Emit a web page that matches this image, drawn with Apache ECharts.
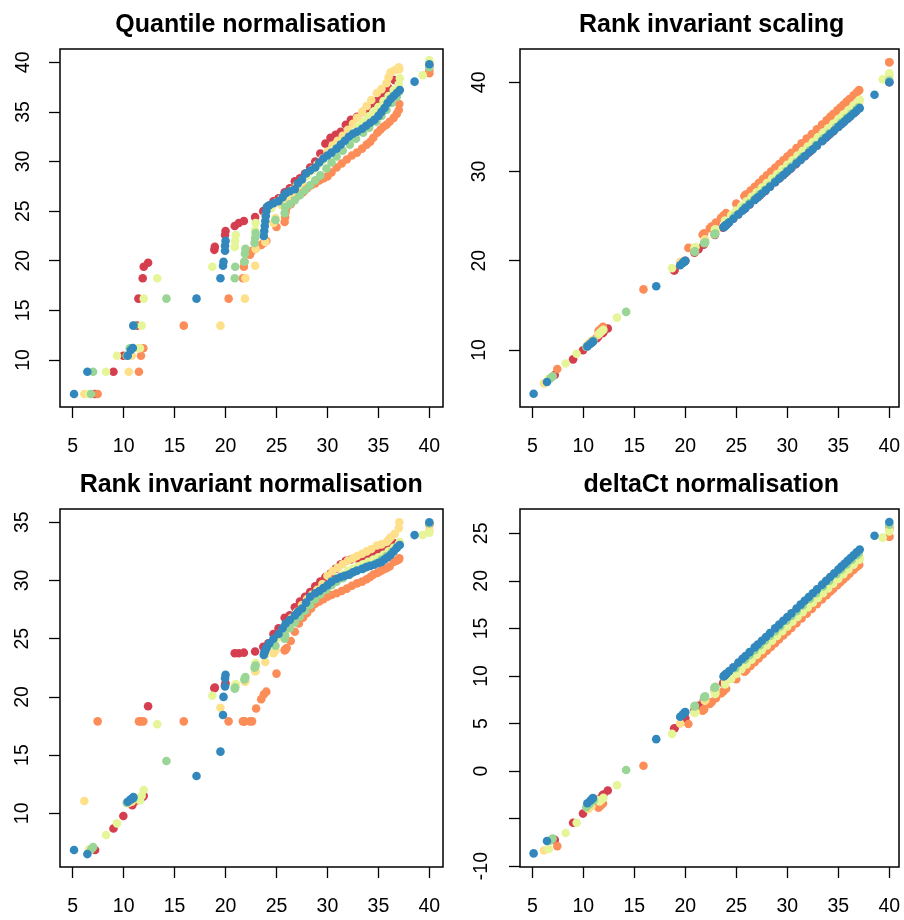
<!DOCTYPE html>
<html><head><meta charset="utf-8">
<script src="https://cdn.jsdelivr.net/npm/echarts@6/dist/echarts.min.js"></script>
<style>html,body{margin:0;padding:0;background:#fff}#c{width:904px;height:920px}</style>
</head><body><div id="c"></div>
<script>
// ---------- data: raw Ct (x) per sample, and normalised values per method ----------
const panelTitles = ['Quantile normalisation','Rank invariant scaling','Rank invariant normalisation','deltaCt normalisation'];
const xTicks = [5,10,15,20,25,30,35,40];
const yTicksQuantile = [10,15,20,25,30,35,40];
const yTicksScaling = [10,20,30,40];
const yTicksRankNorm = [10,15,20,25,30,35];
const yTicksDeltaCt = [-10,-5,0,5,10,15,20,25];
const yLabelsDeltaCt = [-10,0,5,10,15,20,25];

// sample 1 (red)
const x_s1 = [7.2,9.0,9.97,10.85,11.3,11.45,11.87,11.97,12.4,18.9,18.95,19.95,20.0,20.9,21.3,21.8,22.9,23.7,24.2,24.7,25.2,25.8,26.3,26.8,27.3,27.8,28.3,28.8,29.3,29.8,30.3,30.8,31.3,31.8,32.3,32.9,33.5,34.0,34.5,35.0,35.5,36.0,36.6,40.0];
const q_s1 = [6.57,8.82,10.43,11.18,13.46,16.18,18.23,19.4,19.8,21.1,21.4,22.6,23.0,23.5,23.8,24.0,24.4,25.0,25.5,26.0,26.3,26.9,27.3,28.0,28.3,28.8,29.4,30.0,30.8,31.8,32.4,32.7,33.0,33.7,34.2,34.5,35.0,35.4,35.9,36.3,36.8,37.4,38.2,39.7];
const rs_s1 = [7.2,8.95,9.97,10.85,11.3,11.45,11.87,11.97,12.4,18.9,18.95,19.95,20.0,20.9,21.3,21.8,22.9,23.7,24.2,24.7,25.2,25.8,26.3,26.8,27.3,27.8,28.3,28.8,29.3,29.8,30.3,30.8,31.3,31.8,32.3,32.9,33.5,34.0,34.5,35.0,35.5,36.0,36.6,40.0];
const rn_s1 = [6.85,8.7,9.77,10.7,11.1,11.2,11.4,11.5,19.2,20.75,20.8,21.0,21.2,23.75,23.75,23.8,23.9,24.3,24.6,25.4,25.9,26.8,27.0,27.7,28.2,28.6,29.0,29.5,29.9,30.3,30.6,31.0,31.4,31.7,31.8,31.9,32.0,32.1,32.3,32.5,32.7,32.8,33.2,34.9];
const dc_s1 = [-7.25,-5.45,-4.48,-3.6,-3.15,-3.0,-2.58,-2.48,-2.05,4.45,4.5,5.5,5.55,6.45,6.85,7.35,8.45,9.25,9.75,10.25,10.75,11.35,11.85,12.35,12.85,13.35,13.85,14.35,14.85,15.35,15.85,16.35,16.85,17.35,17.85,18.45,19.05,19.55,20.05,20.55,21.05,21.55,22.15,25.55];

// sample 2 (orange)
const x_s2 = [7.45,11.5,11.7,11.93,15.9,20.3,21.7,21.8,21.85,22.4,22.6,23.0,23.5,23.75,24.0,25.0,25.8,25.85,25.9,26.0,26.4,26.8,27.2,27.6,28.0,28.4,28.8,29.2,29.6,30.0,30.4,30.9,31.4,31.9,32.4,32.9,33.4,33.85,34.2,34.5,34.9,35.2,35.5,35.8,36.1,36.5,36.8,37.0,37.05,40.0,40.0];
const q_s2 = [6.57,8.82,10.43,11.18,13.46,16.18,18.23,19.4,19.9,20.6,21.0,21.3,21.6,21.8,22.0,23.4,23.9,24.4,24.9,25.4,25.7,26.4,26.6,26.9,27.3,27.6,27.8,28.1,28.3,28.5,28.9,29.4,29.8,30.2,30.6,30.9,31.3,31.7,32.0,32.4,32.9,33.2,33.5,33.7,34.0,34.4,34.8,35.2,35.8,38.9,39.2];
const rs_s2 = [7.87,12.14,12.36,12.6,16.79,21.44,22.92,23.02,23.07,23.65,23.87,24.29,24.82,25.08,25.34,26.4,27.24,27.3,27.35,27.46,27.88,28.3,28.72,29.15,29.57,29.99,30.41,30.84,31.26,31.68,32.1,32.63,33.16,33.69,34.21,34.74,35.27,35.75,36.12,36.43,36.85,37.17,37.49,37.8,38.12,38.54,38.86,39.07,39.12,42.24,42.24];
const rn_s2 = [17.9,17.9,17.9,17.9,17.9,17.9,17.9,17.9,17.9,17.9,17.9,19.0,19.8,20.2,20.45,22.0,24.0,24.05,24.1,24.2,24.8,25.6,26.3,26.8,27.2,27.6,28.0,28.2,28.4,28.6,28.75,28.9,29.1,29.3,29.55,29.75,29.9,30.1,30.3,30.5,30.65,30.8,30.95,31.05,31.2,31.6,31.7,31.8,31.9,34.8,34.9];
const dc_s2 = [-7.9,-3.85,-3.65,-3.42,0.55,4.95,6.35,6.45,6.5,7.05,7.25,7.65,8.15,8.4,8.65,9.65,10.45,10.5,10.55,10.65,11.05,11.45,11.85,12.25,12.65,13.05,13.45,13.85,14.25,14.65,15.05,15.55,16.05,16.55,17.05,17.55,18.05,18.5,18.85,19.15,19.55,19.85,20.15,20.45,20.75,21.15,21.45,21.65,21.7,24.65,24.65];

// sample 3 (yellow)
const x_s3 = [6.14,10.5,10.8,11.44,19.5,21.9,21.95,22.9,22.95,23.9,24.7,24.9,25.5,26.0,26.5,27.0,27.5,28.0,28.5,29.0,29.5,30.0,30.5,31.0,31.5,32.0,32.5,32.9,33.4,33.85,34.3,34.85,35.3,35.8,36.0,36.2,36.6,37.0,37.05,40.0];
const q_s3 = [6.57,8.82,10.43,11.18,13.46,16.18,18.23,19.5,21.2,21.9,23.8,24.3,25.6,26.3,26.8,27.4,27.9,28.6,29.2,29.7,30.3,31.0,31.6,32.1,32.6,33.2,33.8,34.4,35.0,35.6,36.2,36.9,37.3,37.9,38.5,39.0,39.2,39.5,39.3,39.9];
const rs_s3 = [6.26,10.71,11.02,11.67,19.89,22.34,22.39,23.36,23.41,24.38,25.19,25.4,26.01,26.52,27.03,27.54,28.05,28.56,29.07,29.58,30.09,30.6,31.11,31.62,32.13,32.64,33.15,33.56,34.07,34.53,34.99,35.55,36.01,36.52,36.72,36.92,37.33,37.74,37.79,40.8];
const rn_s3 = [11.06,10.9,11.0,11.3,19.07,21.3,21.35,22.2,22.2,23.0,23.75,24.0,25.5,26.2,26.8,27.3,27.9,28.4,28.8,29.2,29.7,30.4,30.8,31.1,31.4,31.7,31.9,32.1,32.3,32.5,32.7,33.0,33.1,33.3,33.5,33.7,34.0,34.5,35.0,34.3];
const dc_s3 = [-8.36,-4.0,-3.7,-3.06,5.0,7.4,7.45,8.4,8.45,9.4,10.2,10.4,11.0,11.5,12.0,12.5,13.0,13.5,14.0,14.5,15.0,15.5,16.0,16.5,17.0,17.5,18.0,18.4,18.9,19.35,19.8,20.35,20.8,21.3,21.5,21.7,22.1,22.5,22.55,25.5];

// sample 4 (yellow-green)
const x_s4 = [6.6,8.27,9.35,11.6,11.77,11.97,13.3,18.7,20.9,20.95,21.0,22.9,22.95,23.9,24.5,25.0,25.5,26.0,26.5,27.0,27.5,28.0,28.5,29.0,29.5,30.0,30.5,31.0,31.5,32.0,32.5,33.0,33.5,34.0,34.5,35.0,35.5,36.0,36.5,37.0,37.1,39.35,40.0];
const q_s4 = [6.57,8.82,10.43,11.18,13.46,16.18,18.23,19.4,21.4,22.0,22.6,23.1,23.8,24.5,25.3,25.9,26.3,26.7,27.1,27.6,28.1,28.6,29.1,29.6,30.1,30.6,31.1,31.5,32.0,32.4,32.9,33.5,34.0,34.5,35.0,35.5,36.1,36.6,37.2,37.8,38.4,38.7,40.2];
const rs_s4 = [6.77,8.48,9.58,11.89,12.06,12.27,13.63,19.17,21.42,21.47,21.53,23.47,23.52,24.5,25.11,25.63,26.14,26.65,27.16,27.68,28.19,28.7,29.21,29.73,30.24,30.75,31.26,31.78,32.29,32.8,33.31,33.83,34.34,34.85,35.36,35.88,36.39,36.9,37.41,37.93,38.03,40.33,41.0];
const rn_s4 = [6.9,8.14,9.14,11.1,11.5,12.0,17.65,20.1,20.9,21.0,21.1,22.7,22.9,23.6,24.4,25.0,25.5,26.0,26.5,27.0,27.5,28.0,28.5,28.9,29.3,29.6,29.9,30.2,30.5,30.8,31.0,31.2,31.4,31.6,31.8,32.0,32.2,32.5,32.8,33.1,33.3,33.9,34.1];
const dc_s4 = [-8.2,-6.53,-5.45,-3.2,-3.03,-2.83,-1.5,3.9,6.1,6.15,6.2,8.1,8.15,9.1,9.7,10.2,10.7,11.2,11.7,12.2,12.7,13.2,13.7,14.2,14.7,15.2,15.7,16.2,16.7,17.2,17.7,18.2,18.7,19.2,19.7,20.2,20.7,21.2,21.7,22.2,22.3,24.55,25.2];

// sample 5 (green)
const x_s5 = [6.8,7.0,10.3,10.6,11.0,14.2,20.9,20.95,21.85,21.9,21.95,22.85,22.9,22.95,24.9,25.8,25.85,26.3,26.8,27.3,27.8,28.3,28.8,29.3,29.9,30.4,30.9,31.5,32.2,32.8,33.5,34.1,34.8,35.3,35.8,36.3,36.8,37.0,40.0];
const q_s5 = [6.57,8.82,10.43,11.18,13.46,16.18,18.23,19.4,19.9,20.7,21.2,21.8,22.3,22.8,24.1,24.8,25.4,25.7,26.1,26.6,27.1,27.6,28.1,28.6,29.3,29.9,30.5,31.1,31.7,32.3,32.9,33.4,34.0,34.6,35.2,35.9,36.5,37.0,39.5];
const rs_s5 = [6.83,7.04,10.35,10.65,11.06,14.27,21.0,21.05,21.96,22.01,22.06,22.96,23.01,23.06,25.02,25.93,25.98,26.43,26.93,27.44,27.94,28.44,28.94,29.45,30.05,30.55,31.05,31.66,32.36,32.96,33.67,34.27,34.97,35.48,35.98,36.48,36.98,37.19,40.2];
const rn_s5 = [6.9,7.1,10.9,11.1,11.3,14.5,20.7,20.8,21.5,21.6,21.7,22.5,22.6,22.7,24.4,25.0,25.3,25.9,26.4,26.9,27.4,27.9,28.4,28.8,29.2,29.6,29.9,30.2,30.5,30.8,31.0,31.3,31.5,31.8,32.1,32.4,32.8,33.0,34.9];
const dc_s5 = [-7.3,-7.1,-3.8,-3.5,-3.1,0.1,6.8,6.85,7.75,7.8,7.85,8.75,8.8,8.85,10.8,11.7,11.75,12.2,12.7,13.2,13.7,14.2,14.7,15.2,15.8,16.3,16.8,17.4,18.1,18.7,19.4,20.0,20.7,21.2,21.7,22.2,22.7,22.9,25.9];

// sample 6 (blue)
const x_s6 = [5.13,6.44,10.4,10.7,10.9,10.95,17.15,19.5,19.75,19.8,19.95,19.95,20.0,23.75,23.8,23.85,23.9,23.95,24.0,24.05,24.3,24.7,25.2,25.6,25.9,26.3,26.8,27.1,27.5,27.9,28.3,28.8,29.2,29.6,30.0,30.4,30.9,31.3,31.7,32.1,32.5,32.9,33.4,33.8,34.2,34.6,35.0,35.3,35.6,35.9,36.2,36.5,36.8,37.1,38.55,40.0];
const q_s6 = [6.57,8.82,10.43,11.0,11.2,13.46,16.18,18.23,19.5,19.9,21.0,21.5,22.0,22.5,23.0,23.5,24.0,24.5,25.0,25.4,25.6,25.8,26.0,26.4,26.8,27.0,27.2,27.8,28.2,28.8,29.1,29.4,29.9,30.3,30.6,30.9,31.3,31.7,32.1,32.5,32.8,33.0,33.3,33.6,33.9,34.2,34.6,35.0,35.4,35.9,36.3,36.6,36.9,37.2,38.05,39.8];
const rs_s6 = [5.1,6.42,10.4,10.7,10.9,10.95,17.15,19.5,19.75,19.8,19.95,19.95,20.0,23.75,23.8,23.85,23.9,23.95,24.0,24.05,24.3,24.7,25.2,25.6,25.9,26.3,26.8,27.1,27.5,27.9,28.3,28.8,29.2,29.6,30.0,30.4,30.9,31.3,31.7,32.1,32.5,32.9,33.4,33.8,34.2,34.6,35.0,35.3,35.6,35.9,36.2,36.5,36.8,37.1,38.6,40.0];
const rn_s6 = [6.85,6.5,11.0,11.2,11.3,11.4,13.2,15.3,18.45,20.0,20.9,21.6,21.9,23.6,23.75,23.9,24.0,24.1,24.2,24.3,24.6,25.0,25.4,25.9,26.3,26.6,27.0,27.3,27.6,28.1,28.6,28.9,29.1,29.35,29.6,29.9,30.15,30.3,30.4,30.5,30.7,30.85,31.0,31.15,31.25,31.35,31.5,31.6,31.8,32.0,32.2,32.5,32.8,33.05,33.9,35.0];
const dc_s6 = [-8.67,-7.36,-3.4,-3.1,-2.9,-2.85,3.35,5.7,5.95,6.0,6.15,6.15,6.2,9.95,10.0,10.05,10.1,10.15,10.2,10.25,10.5,10.9,11.4,11.8,12.1,12.5,13.0,13.3,13.7,14.1,14.5,15.0,15.4,15.8,16.2,16.6,17.1,17.5,17.9,18.3,18.7,19.1,19.6,20.0,20.4,20.8,21.2,21.5,21.8,22.1,22.4,22.7,23.0,23.3,24.75,26.2];

// ---------- styling / layout ----------
const palette = ['#D53E4F','#FC8D59','#FEE08B','#E6F598','#99D594','#3288BD'];
const sampleX = [x_s1,x_s2,x_s3,x_s4,x_s5,x_s6];
const panelY = [
  [q_s1,q_s2,q_s3,q_s4,q_s5,q_s6],
  [rs_s1,rs_s2,rs_s3,rs_s4,rs_s5,rs_s6],
  [rn_s1,rn_s2,rn_s3,rn_s4,rn_s5,rn_s6],
  [dc_s1,dc_s2,dc_s3,dc_s4,dc_s5,dc_s6]
];
const layout = [
  {left:60, top:49, width:383, height:358, xmin:3.754, xmax:41.34, ymin:5.26, ymax:41.34, yTicks:yTicksQuantile, yLabels:yTicksQuantile, tx:250.8, ty:25.5, ym:36.7},
  {left:520, top:49, width:379, height:358, xmin:3.794, xmax:40.95, ymin:3.61, ymax:43.73, yTicks:yTicksScaling, yLabels:yTicksScaling, tx:711.7, ty:25.5, ym:40.2},
  {left:60, top:509, width:383, height:358, xmin:3.754, xmax:41.34, ymin:5.39, ymax:36.14, yTicks:yTicksRankNorm, yLabels:yTicksRankNorm, tx:251.2, ty:485.5, ym:37.5},
  {left:520, top:509, width:379, height:358, xmin:3.794, xmax:40.95, ymin:-10.1, ymax:27.56, yTicks:yTicksDeltaCt, yLabels:yLabelsDeltaCt, tx:711.3, ty:485.5, ym:38.7}
];
const FONT = '"Liberation Sans", Arial, Helvetica, sans-serif';
const tickStyle = {color:'#000', width:1.3};

const grids = [], xAxes = [], yAxes = [], series = [], graphics = [];
layout.forEach((L, p) => {
  grids.push({left:L.left, top:L.top, width:L.width, height:L.height, show:true, borderColor:'#000', borderWidth:1.5, backgroundColor:'transparent'});
  xAxes.push({gridIndex:p, type:'value', position:'bottom', min:L.xmin, max:L.xmax, splitLine:{show:false}, axisLine:{show:false, onZero:false},
    axisTick:{show:true, customValues:xTicks, length:11, lineStyle:tickStyle},
    axisLabel:{customValues:xTicks, fontSize:19.5, color:'#000', fontFamily:FONT, margin:39.5, verticalAlign:'middle'}});
  yAxes.push({gridIndex:p, type:'value', position:'left', min:L.ymin, max:L.ymax, splitLine:{show:false}, axisLine:{show:false, onZero:false},
    axisTick:{show:true, customValues:L.yTicks, length:11, lineStyle:tickStyle},
    axisLabel:{customValues:L.yLabels, fontSize:19.5, color:'#000', fontFamily:FONT, margin:L.ym, rotate:90, align:'center', verticalAlign:'middle'}});
  graphics.push({type:'text', x:L.tx, y:L.ty, style:{text:panelTitles[p], font:'bold 25px ' + FONT, fill:'#000', align:'center', verticalAlign:'middle', textAlign:'center', textVerticalAlign:'middle'}});
  for (let s = 0; s < 6; s++) {
    const xs = sampleX[s], ys = panelY[p][s];
    const data = [];
    for (let i = 0; i < Math.min(xs.length, ys.length); i++) data.push([xs[i], ys[i]]);
    series.push({type:'scatter', name:'S' + (s+1), xAxisIndex:p, yAxisIndex:p, data:data, symbol:'circle', symbolSize:8.6,
      itemStyle:{color:palette[s], opacity:1}, emphasis:{disabled:true}, silent:true});
  }
});

const chart = echarts.init(document.getElementById('c'), null, {renderer:'canvas'});
chart.setOption({animation:false, backgroundColor:'#fff', grid:grids, xAxis:xAxes, yAxis:yAxes, series:series, graphic:graphics});
</script>
</body></html>
